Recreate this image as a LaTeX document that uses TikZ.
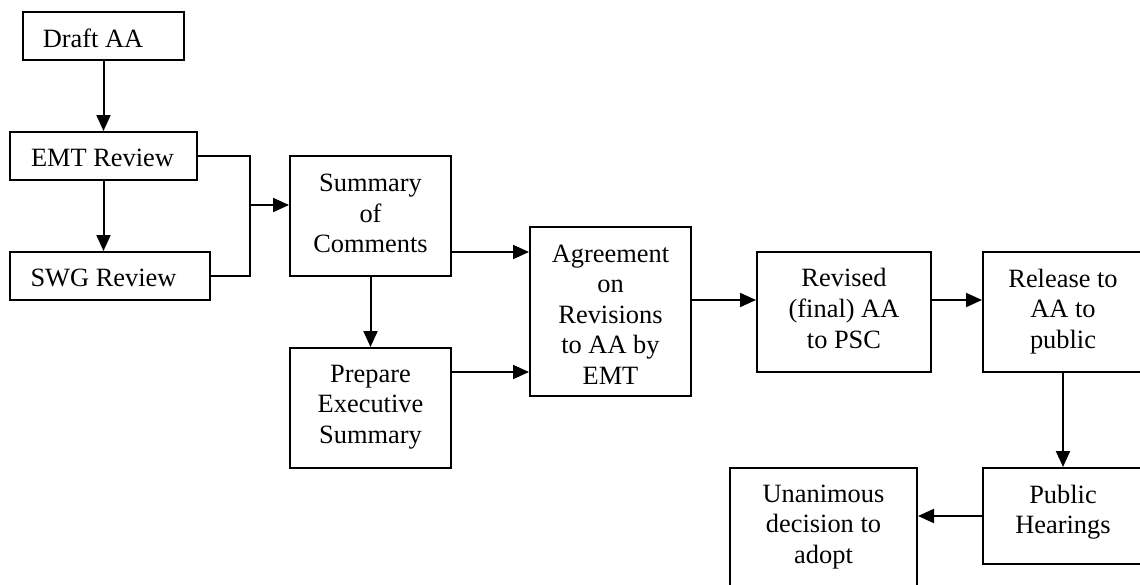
\documentclass[tikz,border=0pt]{standalone}
\usepackage{fontspec}
\setmainfont{Liberation Serif}
\usetikzlibrary{arrows.meta}
\begin{document}
\begin{tikzpicture}[x=0.5pt,y=-0.5pt,
  box/.style={draw, line width=1pt, inner sep=0pt, rectangle},
  txt/.style={inner sep=0pt, align=center, font=\fontsize{13.2}{15.3}\selectfont},
  conn/.style={line width=1pt},
  arr/.style={conn, -{Triangle[length=8pt,width=7pt]}}]
\useasboundingbox (0,0) rectangle (1140,584);
\clip (0,0) rectangle (1140,584);
% boxes
\node[box, minimum width=80.5pt, minimum height=24pt] (draft) at (103.5,36) {};
\node[box, minimum width=93.5pt, minimum height=24pt] (emt) at (103.5,156) {};
\node[box, minimum width=100pt, minimum height=24pt] (swg) at (110,276) {};
\node[box, minimum width=80.5pt, minimum height=60pt] (sum) at (370.5,216) {};
\node[box, minimum width=80.5pt, minimum height=60pt] (prep) at (370.5,408) {};
\node[box, minimum width=80.5pt, minimum height=84.5pt] (agr) at (610.5,311.5) {};
\node[box, minimum width=87pt, minimum height=60pt] (rev) at (844,312) {};
\node[box, minimum width=80pt, minimum height=60pt] (rel) at (1063,312) {};
\node[box, minimum width=80pt, minimum height=48pt] (pub) at (1063,516) {};
\node[box, minimum width=93.5pt, minimum height=60pt] (una) at (823.5,528) {};
% texts
\node[txt] (draftT) at (93,38) {Draft AA};
\node[txt] (emtT) at (102.5,158) {EMT Review};
\node[txt] (swgT) at (103.5,278) {SWG Review};
\node[txt] (sumT) at (370.5,213.5) {Summary\\of\\Comments};
\node[txt] (prepT) at (370.5,407) {Prepare\\Executive\\Summary};
\node[txt] (agrT) at (610.5,314.5) {Agreement\\on\\Revisions\\to AA by\\EMT};
\node[txt] (revT) at (844,308.5) {Revised\\(final) AA\\to PSC};
\node[txt] (relT) at (1063,311.5) {Release to\\AA to\\public};
\node[txt] (pubT) at (1063,512) {Public\\Hearings};
\node[txt] (unaT) at (823.5,527) {Unanimous\\decision to\\adopt};
% connectors
\coordinate (jt) at (250,156);
\coordinate (jb) at (250,276);
\coordinate (jm) at (250,205);
\draw[arr] (draft) -- (emt);
\draw[arr] (emt.south) -- (emt.south |- swg.north);
\draw[conn] (emt.east) -- (jt) -- (jb) -- (swg.east);
\draw[arr] (jm) -- (jm -| sum.west);
\draw[arr] (sum.south) -- (prep.north);
\draw[arr] (sum.east |- 0,252) -- (agr.west |- 0,252);
\draw[arr] (prep.east |- 0,372) -- (agr.west |- 0,372);
\draw[arr] (agr.east |- 0,300) -- (rev.west |- 0,300);
\draw[arr] (rev.east |- 0,300) -- (rel.west |- 0,300);
\draw[arr] (rel.south) -- (pub.north);
\draw[arr] (pub.west) -- (una.east |- pub.west);
\end{tikzpicture}
\end{document}
